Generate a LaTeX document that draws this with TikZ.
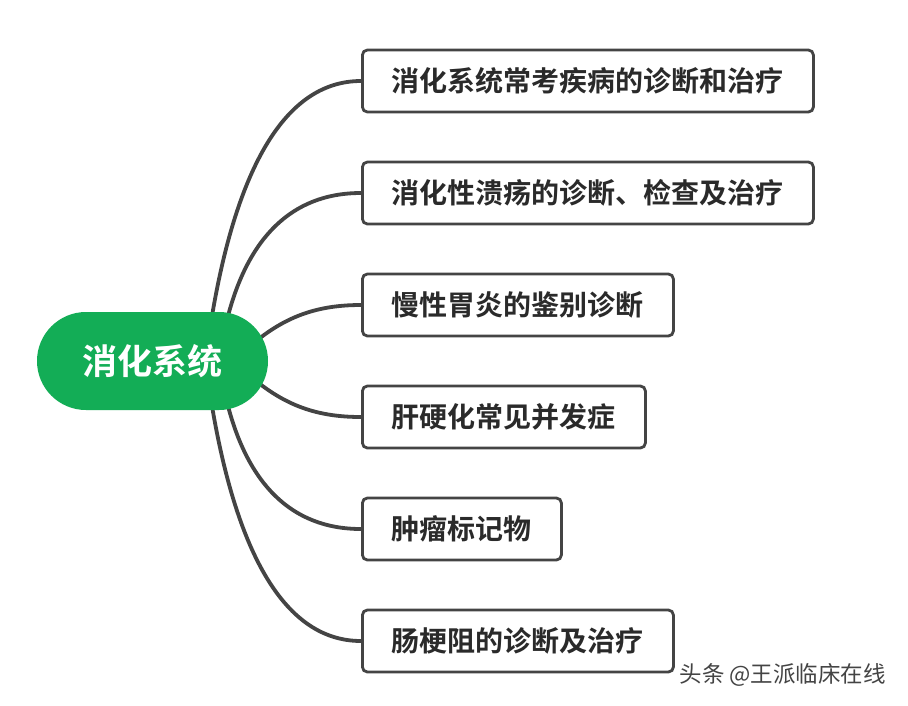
\documentclass[tikz,border=0pt]{standalone}
\usepackage{fontspec}
\newfontfamily\cjk{Noto Sans CJK SC}[BoldFont={Noto Sans CJK SC Bold}]
\definecolor{rootgreen}{HTML}{13AD56}
\definecolor{linegray}{HTML}{444444}
\definecolor{textgray}{HTML}{2A2A2A}
\begin{document}
\begin{tikzpicture}[x=1pt,y=-1pt,
  topic/.style={draw=linegray, line width=2.8pt, rounded corners=5pt, fill=white,
    anchor=west, minimum height=62pt, inner xsep=29.5pt, inner ysep=0pt,
    text=textgray, font=\cjk\bfseries\fontsize{28}{30}\selectfont},
  link/.style={draw=linegray, line width=3.8pt},
  rootnode/.style={fill=rootgreen, rounded corners=49pt, minimum width=231pt,
    minimum height=98pt, inner sep=0pt, text=white,
    font=\cjk\bfseries\fontsize{35}{38}\selectfont}]
\useasboundingbox (0,0) rectangle (908,705);
\fill[white] (0,0) rectangle (908,705);
% topics
\node[topic] (t1) at (361,81) {消化系统常考疾病的诊断和治疗};
\node[topic] (t2) at (361,193) {消化性溃疡的诊断、检查及治疗};
\node[topic] (t3) at (361,305) {慢性胃炎的鉴别诊断};
\node[topic] (t4) at (361,417) {肝硬化常见并发症};
\node[topic] (t5) at (361,529) {肿瘤标记物};
\node[topic] (t6) at (361,641) {肠梗阻的诊断及治疗};
% anchor points on the root
\coordinate (r1) at (212,316);
\coordinate (r2) at (228,316);
\coordinate (r3) at (260,338);
\coordinate (r4) at (260,384);
\coordinate (r5) at (228,406);
\coordinate (r6) at (212,406);
% connectors
\draw[link] (r1) .. controls (235,180) and (280,81) .. (t1.west);
\draw[link] (r2) .. controls (248,240) and (290,193) .. (t2.west);
\draw[link] (r3) .. controls (290,315) and (320,305) .. (t3.west);
\draw[link] (r4) .. controls (290,407) and (320,417) .. (t4.west);
\draw[link] (r5) .. controls (248,482) and (290,529) .. (t5.west);
\draw[link] (r6) .. controls (235,542) and (280,641) .. (t6.west);
% root
\node[rootnode] (root) at (152.5,361) {消化系统};
% watermark
\node[anchor=west, text=linegray, font=\cjk\fontsize{22.5}{25}\selectfont] (wm) at (676,675) {头条 @王派临床在线};
\end{tikzpicture}
\end{document}
